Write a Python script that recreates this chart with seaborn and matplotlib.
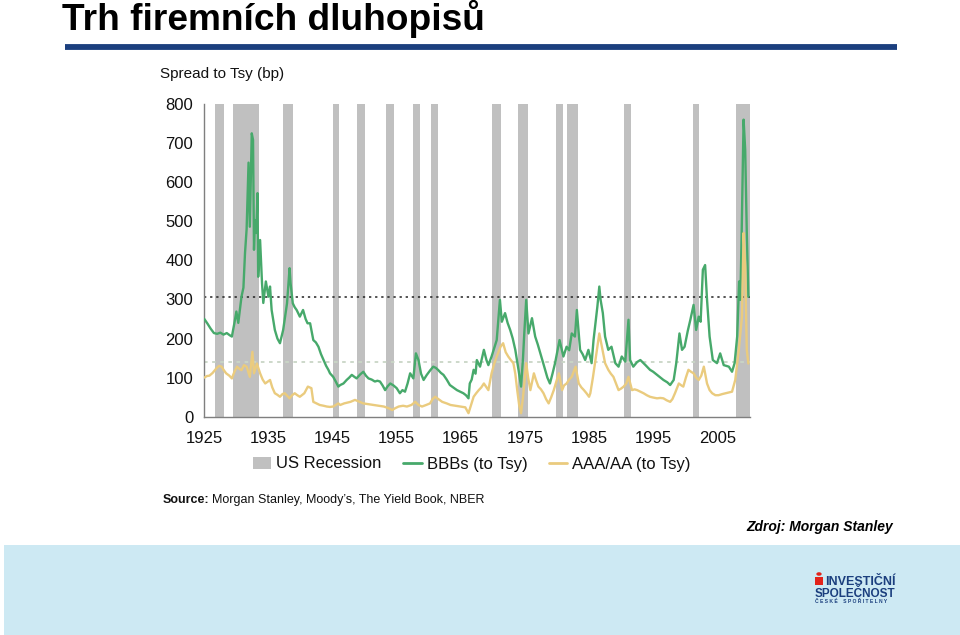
import matplotlib
matplotlib.use("Agg")
import matplotlib.pyplot as plt
import seaborn as sns
import pandas as pd
from matplotlib.patches import Patch, Rectangle, Circle
from matplotlib.lines import Line2D

# ---------------- data ----------------
recession_start = [1926.6, 1929.5, 1937.2, 1945.0, 1948.8, 1953.3, 1957.6, 1960.3,
                   1969.8, 1973.9, 1979.9, 1981.6, 1990.5, 2001.2, 2007.9]
recession_end = [1928.1, 1933.5, 1938.8, 1946.0, 1950.1, 1954.6, 1958.6, 1961.4,
                 1971.3, 1975.5, 1980.9, 1983.2, 1991.6, 2002.2, 2010.1]

bbb_years = [1925.0, 1925.5, 1926.0, 1926.5, 1927.0, 1927.5, 1928.0, 1928.5, 1929.0, 1929.3,
             1929.7, 1930.0, 1930.3, 1930.8, 1931.1, 1931.35, 1931.6, 1931.9, 1932.1, 1932.4,
             1932.6, 1932.75, 1932.9, 1933.1, 1933.3, 1933.4, 1933.7, 1934.0, 1934.2, 1934.6,
             1935.0, 1935.25, 1935.5, 1936.0, 1936.4, 1936.8, 1937.3, 1937.9, 1938.3, 1938.45,
             1938.8, 1939.1, 1939.4, 1939.9, 1940.4, 1940.8, 1941.1, 1941.5, 1942.0, 1942.4,
             1942.8, 1943.2, 1943.6, 1944.0, 1944.35, 1944.6, 1945.1, 1945.5, 1945.9, 1946.2,
             1946.7, 1947.2, 1947.6, 1948.0, 1948.4, 1948.75, 1949.3, 1949.8, 1950.2, 1950.6,
             1951.1, 1951.6, 1952.0, 1952.4, 1952.8, 1953.2, 1953.6, 1954.0, 1954.5, 1955.0,
             1955.5, 1955.9, 1956.3, 1956.7, 1957.1, 1957.6, 1958.0, 1958.4, 1958.8, 1959.2,
             1959.7, 1960.2, 1960.7, 1961.1, 1961.5, 1961.9, 1962.3, 1962.8, 1963.3, 1963.8,
             1964.4, 1964.9, 1965.4, 1965.8, 1966.2, 1966.4, 1966.7, 1967.0, 1967.3, 1967.5,
             1968.0, 1968.3, 1968.6, 1969.0, 1969.3, 1969.8, 1970.2, 1970.6, 1970.9, 1971.1,
             1971.4, 1971.9, 1972.3, 1972.7, 1973.1, 1973.5, 1974.0, 1974.4, 1974.7, 1974.9,
             1975.2, 1975.55, 1976.1, 1976.6, 1977.0, 1977.4, 1977.8, 1978.15, 1978.5, 1978.9,
             1979.3, 1979.7, 1980.1, 1980.4, 1981.0, 1981.5, 1981.9, 1982.3, 1982.8, 1983.1,
             1983.6, 1984.0, 1984.4, 1984.9, 1985.4, 1985.7, 1986.0, 1986.3, 1986.6, 1986.8,
             1987.15, 1987.5, 1988.0, 1988.5, 1989.1, 1989.6, 1990.1, 1990.65, 1991.15, 1991.4,
             1991.9, 1992.5, 1993.0, 1993.8, 1994.5, 1995.0, 1995.6, 1996.1, 1996.6, 1997.2,
             1997.65, 1998.2, 1998.6, 1999.1, 1999.5, 1999.9, 2000.4, 2000.8, 2001.3, 2001.7,
             2002.1, 2002.4, 2002.75, 2003.1, 2003.4, 2003.8, 2004.3, 2004.95, 2005.45, 2006.0,
             2006.8, 2007.3, 2007.7, 2008.1, 2008.4, 2008.6, 2008.8, 2009.1, 2009.35, 2009.6,
             2009.85]
bbb_values = [250, 238, 225, 214, 212, 215, 210, 214, 208, 205,
              240, 269, 240, 307, 330, 419, 480, 650, 486, 725,
              708, 427, 503, 470, 572, 358, 452, 342, 291, 346,
              307, 333, 273, 222, 200, 188, 222, 290, 380, 342,
              290, 280, 273, 256, 273, 250, 239, 239, 196, 190,
              179, 160, 145, 130, 120, 111, 102, 90, 77, 81,
              85, 94, 100, 107, 102, 98, 108, 115, 105, 98,
              95, 90, 92, 90, 80, 68, 78, 85, 80, 73,
              60, 68, 64, 85, 111, 98, 162, 145, 110, 94,
              107, 118, 128, 125, 119, 112, 107, 95, 81, 75,
              68, 64, 60, 55, 47, 85, 95, 120, 110, 145,
              128, 150, 171, 145, 132, 154, 175, 196, 260, 299,
              243, 265, 240, 222, 200, 171, 120, 77, 150, 213,
              299, 213, 252, 205, 185, 162, 140, 120, 100, 85,
              110, 137, 170, 196, 154, 179, 170, 213, 205, 273,
              171, 160, 145, 171, 137, 196, 240, 282, 333, 299,
              265, 205, 171, 179, 137, 128, 154, 141, 248, 145,
              128, 140, 145, 132, 120, 115, 107, 100, 94, 88,
              81, 94, 137, 213, 171, 179, 220, 248, 286, 222,
              256, 243, 376, 388, 299, 205, 145, 137, 162, 132,
              128, 115, 137, 205, 346, 299, 470, 760, 683, 470,
              307]

aaa_years = [1925.0, 1925.4, 1925.8, 1926.3, 1926.9, 1927.3, 1927.7, 1928.0, 1928.4, 1928.9,
             1929.3, 1929.7, 1930.1, 1930.5, 1930.8, 1931.2, 1931.6, 1932.1, 1932.5, 1932.75,
             1933.2, 1933.7, 1934.1, 1934.5, 1935.25, 1935.6, 1936.0, 1936.4, 1936.8, 1937.2,
             1937.55, 1938.0, 1938.3, 1938.7, 1939.1, 1939.5, 1939.9, 1940.3, 1940.6, 1941.15,
             1941.7, 1942.0, 1942.5, 1943.0, 1943.6, 1944.1, 1944.6, 1945.1, 1945.9, 1946.2,
             1946.8, 1947.3, 1947.8, 1948.5, 1949.2, 1949.8, 1950.6, 1951.4, 1952.2, 1953.0,
             1953.7, 1954.3, 1954.8, 1955.3, 1956.0, 1956.6, 1957.3, 1957.9, 1958.4, 1958.95,
             1959.6, 1960.2, 1960.6, 1961.0, 1961.5, 1962.1, 1962.8, 1963.4, 1964.2, 1965.0,
             1965.7, 1966.2, 1966.6, 1967.0, 1967.4, 1967.8, 1968.2, 1968.6, 1969.0, 1969.3,
             1969.8, 1970.2, 1970.6, 1971.2, 1971.6, 1972.0, 1972.4, 1972.8, 1973.2, 1973.5,
             1973.8, 1974.1, 1974.4, 1974.7, 1974.9, 1975.2, 1975.5, 1975.85, 1976.4, 1976.7,
             1977.1, 1977.5, 1977.9, 1978.3, 1978.7, 1979.1, 1979.5, 1979.9, 1980.3, 1980.8,
             1981.1, 1981.5, 1981.9, 1982.3, 1982.9, 1983.4, 1983.8, 1984.2, 1984.6, 1985.0,
             1985.2, 1985.6, 1986.0, 1986.3, 1986.6, 1987.0, 1987.5, 1988.0, 1988.4, 1988.8,
             1989.2, 1989.6, 1990.0, 1990.4, 1990.8, 1991.15, 1991.7, 1992.1, 1992.5, 1993.0,
             1993.5, 1994.0, 1994.5, 1995.0, 1995.6, 1996.1, 1996.6, 1997.1, 1997.65, 1998.0,
             1998.4, 1999.0, 1999.4, 1999.7, 2000.1, 2000.5, 2000.9, 2001.3, 2001.7, 2002.1,
             2002.5, 2002.9, 2003.4, 2003.8, 2004.2, 2004.7, 2005.2, 2005.8, 2006.3, 2006.8,
             2007.3, 2007.8, 2008.35, 2008.6, 2008.85, 2009.1, 2009.35, 2009.6, 2009.85]
aaa_values = [100, 104, 105, 112, 124, 130, 128, 120, 111, 105,
              98, 115, 128, 122, 119, 132, 128, 102, 166, 111,
              136, 111, 95, 85, 94, 75, 60, 56, 51, 58,
              60, 52, 47, 55, 60, 55, 51, 56, 60, 77,
              73, 38, 34, 30, 28, 26, 25, 26, 34, 30,
              34, 36, 38, 43, 38, 34, 32, 30, 28, 26,
              22, 17, 22, 26, 28, 26, 30, 38, 30, 26,
              30, 34, 45, 51, 45, 38, 34, 30, 28, 26,
              24, 9, 30, 51, 60, 68, 75, 85, 75, 68,
              111, 135, 154, 179, 188, 165, 154, 145, 137, 110,
              68, 30, 9, 50, 85, 137, 100, 68, 111, 95,
              77, 70, 60, 45, 34, 50, 68, 90, 111, 68,
              80, 85, 95, 102, 128, 85, 75, 68, 60, 51,
              60, 100, 145, 180, 213, 179, 137, 120, 110, 102,
              85, 68, 72, 77, 85, 102, 68, 70, 68, 64,
              60, 55, 51, 49, 47, 48, 47, 42, 38, 45,
              60, 85, 80, 77, 100, 120, 115, 111, 100, 94,
              105, 128, 85, 68, 60, 55, 55, 58, 60, 62,
              64, 94, 171, 214, 256, 470, 384, 171, 136]

series_names = ["BBBs (to Tsy)", "AAA/AA (to Tsy)"]
series_colors = ["#47A96B", "#EACB7E"]
recession_label = "US Recession"
upper_ref = 305
lower_ref = 140
y_ticks = [0, 100, 200, 300, 400, 500, 600, 700, 800]
x_ticks = [1925, 1935, 1945, 1955, 1965, 1975, 1985, 1995, 2005]

df = pd.concat([
    pd.DataFrame({"year": bbb_years, "spread": bbb_values, "series": series_names[0]}),
    pd.DataFrame({"year": aaa_years, "spread": aaa_values, "series": series_names[1]}),
], ignore_index=True)

# ---------------- style ----------------
sns.set_style("white")
plt.rcParams["font.family"] = ["Liberation Sans", "DejaVu Sans"]

W, H = 960, 635
fig = plt.figure(figsize=(9.6, 6.35), dpi=100)

def fx(px):
    return px / W

def fy(py):
    return 1 - py / H

# title + rule
fig.text(fx(62), fy(30), "Trh firemních dluhopisů", fontsize=26.7, fontweight="bold",
         color="black", va="baseline", ha="left")
fig.add_artist(Line2D([fx(65), fx(897)], [fy(46.5), fy(46.5)], color="#1B3F7E", lw=4.2,
                      transform=fig.transFigure, solid_capstyle="butt"))

# bottom band
fig.add_artist(Rectangle((fx(4), 0), 1 - fx(4), fy(545), transform=fig.transFigure,
                         color="#CDE9F3", zorder=0, lw=0))

# axes
ax = fig.add_axes([fx(204.3), fy(416.7), fx(750) - fx(204.3), fy(104) - fy(416.7)])
for s, e in zip(recession_start, recession_end):
    ax.axvspan(s, e, color="#C0C0C0", lw=0, zorder=1)
ax.axhline(upper_ref, color="#222222", ls=(0, (1.5, 2.5)), lw=1.1, zorder=2)
ax.axhline(lower_ref, color="#C9D6C6", ls=(0, (2, 2.5)), lw=1.3, zorder=2)

sns.lineplot(data=df, x="year", y="spread", hue="series", palette=series_colors,
             hue_order=series_names, estimator=None, sort=False, linewidth=1.7,
             legend=False, ax=ax, zorder=3)

ax.set_xlim(1925, 2010.1)
ax.set_ylim(0, 800)
ax.set_xticks(x_ticks)
ax.set_yticks(y_ticks)
ax.set_xlabel("")
ax.set_ylabel("")
for sp in ["top", "right"]:
    ax.spines[sp].set_visible(False)
for sp in ["left", "bottom"]:
    ax.spines[sp].set_color("#7F7F7F")
    ax.spines[sp].set_linewidth(1.0)
ax.tick_params(axis="both", which="major", direction="out", length=4, width=1,
               color="#7F7F7F", labelsize=12, labelcolor="#111111")
ax.tick_params(axis="x", pad=6)
ax.tick_params(axis="y", pad=4)

fig.text(fx(160), fy(74), "Spread to Tsy (bp)", fontsize=11, va="center", ha="left",
         color="#111111")

# legend
handles = [Patch(facecolor="#C0C0C0", edgecolor="none", label=recession_label),
           Line2D([], [], color=series_colors[0], lw=2, label=series_names[0]),
           Line2D([], [], color=series_colors[1], lw=2, label=series_names[1])]
fig.legend(handles=handles, loc="center", bbox_to_anchor=(fx(472), fy(464)), ncol=3,
           frameon=False, fontsize=12, handlelength=1.1, handletextpad=0.3,
           columnspacing=1.3, labelcolor="#111111")

# source
fig.canvas.draw()
renderer = fig.canvas.get_renderer()
t1 = fig.text(fx(163), fy(500), "Source:", fontsize=9, fontweight="bold", va="center",
              ha="left", color="#111111")
bb = t1.get_window_extent(renderer=renderer)
fig.text(bb.x1 / W + fx(2), fy(500), "Morgan Stanley, Moody’s, The Yield Book, NBER",
         fontsize=9, va="center", ha="left", color="#111111")

fig.text(fx(893), fy(527), "Zdroj: Morgan Stanley", fontsize=10, fontweight="bold",
         fontstyle="italic", va="center", ha="right", color="black")

# logo
fig.add_artist(Rectangle((fx(815), fy(585)), fx(8), fy(577) - fy(585), transform=fig.transFigure,
                         color="#E2231A", lw=0, zorder=5))
fig.add_artist(Circle((fx(819), fy(574)), 0.0028, transform=fig.transFigure,
                      color="#E2231A", lw=0, zorder=5))
fig.text(fx(825), fy(585), "INVESTIČNÍ", fontsize=9, fontweight="bold", color="#1B3F7E",
         va="baseline", ha="left")
fig.text(fx(815), fy(597), "SPOLEČNOST", fontsize=8.5, fontweight="bold", color="#1B3F7E",
         va="baseline", ha="left")
fig.text(fx(815), fy(603), "Č E S K É    S P O Ř I T E L N Y", fontsize=3.6, fontweight="bold",
         color="#1B3F7E", va="baseline", ha="left")

fig.savefig("out.png", dpi=100)
